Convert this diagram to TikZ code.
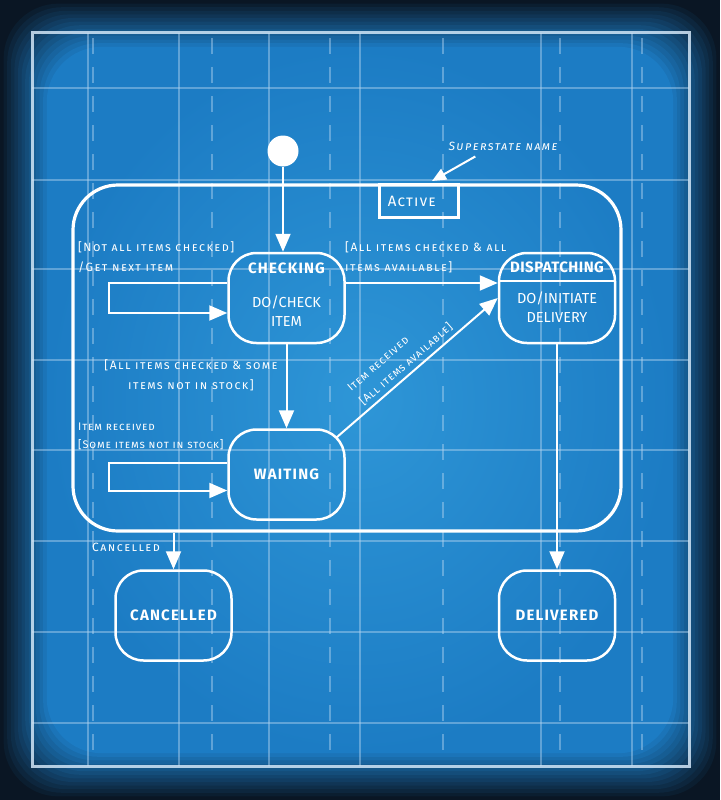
\documentclass[tikz,border=0pt]{standalone}
\usepackage{fontspec}
\setmainfont{Fira Sans}
\newfontfamily\labelfam[LetterSpace=12]{Fira Sans}
\newfontfamily\smalllabelfam[LetterSpace=8]{Fira Sans}
\newfontfamily\statefam[LetterSpace=8]{Fira Sans}
\usetikzlibrary{arrows.meta,positioning}

\definecolor{bpblue}{RGB}{28,124,196}
\definecolor{bplight}{RGB}{46,150,215}
\definecolor{bpdark}{RGB}{10,22,36}
\definecolor{gridblue}{RGB}{178,212,240}

\newcommand\titlefont{\statefam\fontsize{15}{17}\selectfont\bfseries}
\newcommand\bodyfont{\fontsize{14.5}{19}\selectfont}
\newcommand\labelfont{\labelfam\fontsize{12}{20}\selectfont\scshape}
\newcommand\smalllabelfont{\smalllabelfam\fontsize{11}{18.5}\selectfont\scshape}

\tikzset{
  statebox/.style={draw=white, line width=2.5pt, rounded corners=28pt,
    minimum width=116pt, minimum height=90pt, inner sep=0pt, text=white,
    font=\titlefont},
  superbox/.style={draw=white, line width=3.2pt, rounded corners=45pt,
    minimum width=548pt, minimum height=346pt, inner sep=0pt},
  tabbox/.style={draw=white, line width=2.5pt, minimum width=79pt,
    minimum height=33pt, inner sep=0pt, text=white,
    font=\statefam\fontsize{15}{17}\selectfont\scshape},
  initstate/.style={circle, fill=white, minimum size=31pt, inner sep=0pt},
  titletext/.style={text=white, font=\titlefont, inner sep=0pt},
  bodytext/.style={text=white, font=\bodyfont, align=center, inner sep=0pt},
  tlabel/.style={text=white, font=\labelfont, align=left, inner sep=0pt},
  smalllabel/.style={tlabel, font=\smalllabelfont},
  trans/.style={draw=white, line width=2pt, -{Triangle[length=18pt,width=15pt]}},
  gridline/.style={draw=gridblue, line width=1.1pt, opacity=0.45},
  griddash/.style={gridline, dash pattern=on 16pt off 13pt},
  framebox/.style={draw=gridblue!60!white, line width=3pt, opacity=0.85},
}

\begin{document}
\begin{tikzpicture}[x=1pt, y=-1pt]
\useasboundingbox (0,0) rectangle (720,800);

% blueprint paper
\fill[bpdark] (0,0) rectangle (720,800);
\foreach \i in {1,...,13} {
  \pgfmathsetmacro\shadepct{\i*100/13}
  \fill[bpblue!\shadepct!bpdark, rounded corners=55pt]
    (3.6*\i,3.6*\i) rectangle (720-3.6*\i,800-3.6*\i);
}
\shade[inner color=bplight, outer color=bpblue, rounded corners=55pt]
  (47,47) rectangle (673,753);

\foreach \gx in {88,179,269,360,541,632}
  \draw[gridline] (\gx,33) -- (\gx,766);
\foreach \gx in {93,212,330,443,560,642}
  \draw[griddash] (\gx,38) -- (\gx,762);
\foreach \gy in {88,180,269,360,450,541,632,723}
  \draw[gridline] (32,\gy) -- (689,\gy);
\draw[framebox] (32,33) rectangle (689,766);

% superstate
\node[superbox] (active) at (347,358) {};
\node[tabbox, anchor=north west] (activetab) at ([xshift=31pt]active.north) {\hspace*{-14pt}Active};
\node[tlabel, font=\labelfont\itshape] (supername) at (503,146) {Superstate name};
\coordinate (nametip) at (432,181);
\draw[trans, -{Triangle[length=14pt,width=12pt]}]
  ([xshift=27pt,yshift=-6pt]supername.south west) -- (nametip);

% states
\node[initstate] (start) at (283,151) {};
\node[statebox] (checking) at (286.5,298) {};
\node[statebox, right=152pt of checking] (dispatching) {};
\node[statebox, below=84pt of checking] (waiting) {WAITING};
\node[statebox, below=225pt of dispatching] (delivered) {DELIVERED};
\node[statebox, left=265pt of delivered] (cancelled) {CANCELLED};

\node[titletext] (checkingtitle) at ([yshift=30pt]checking.center) {CHECKING};
\node[bodytext] (checkingdo) at ([yshift=-13pt]checking.center) {DO/CHECK\\ITEM};
\node[titletext, font=\titlefont\addfontfeatures{LetterSpace=3}] (dispatchtitle)
  at ([yshift=31pt]dispatching.center) {DISPATCHING};
\node[bodytext] (dispatchdo) at ([yshift=-9pt]dispatching.center) {DO/INITIATE\\DELIVERY};
\draw[white, line width=2pt] ([yshift=17pt]dispatching.west) -- ([yshift=17pt]dispatching.east);

% transitions
\draw[trans] (start) -- (start |- checking.north);
\draw[trans] ([yshift=15pt]checking.west) -- ++(-118pt,0) -- ++(0,-30pt)
  -- ([yshift=-15pt]checking.west);
\node[tlabel, anchor=west] (notchecked) at (78,257)
  {[Not all items checked]\\/Get next item};

\draw[trans] ([yshift=15pt]checking.east) -- ([yshift=15pt]checking.east -| dispatching.west);
\node[tlabel, anchor=west] (allavail) at (345,257)
  {[All items checked \& all\\items available]};

\draw[trans] (checking) -- (waiting);
\node[tlabel, align=center] (somenot) at (191,375)
  {[All items checked \& some\\items not in stock]};

\draw[trans] ([yshift=12pt]waiting.west) -- ++(-118pt,0) -- ++(0,-28pt)
  -- ([yshift=-16pt]waiting.west);
\node[smalllabel, anchor=west] (itemrecv) at (78,436.5)
  {Item received\\{}[Some items not in stock]};

\draw[trans] ([shift={(-9pt,-9pt)}]waiting.north east) -- (dispatching.west)
  node[smalllabel, sloped, above=4pt, pos=0.47] (diaglabel)
  {Item received\\{}[All items available]};

\draw[trans] (dispatching) -- (delivered);
\draw[trans] (active.south -| cancelled.north) -- (cancelled);
\node[tlabel, anchor=east] (cancellbl) at (160,547) {Cancelled};
\end{tikzpicture}
\end{document}
